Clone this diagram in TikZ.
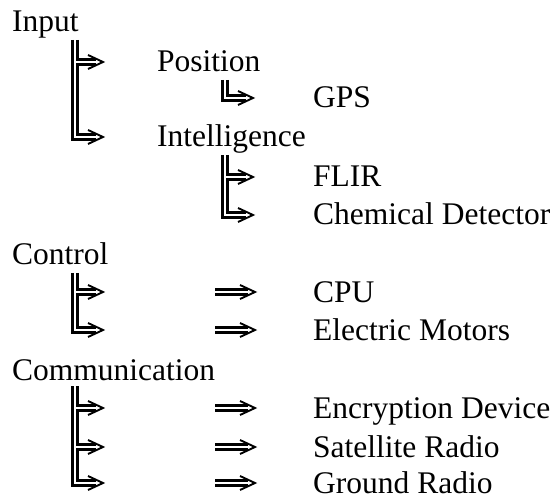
\documentclass[tikz,border=0pt]{standalone}
\usepackage{fontspec}
\setmainfont{Liberation Serif}
\begin{document}
\begin{tikzpicture}[x=1pt,y=-1pt,
  lbl/.style={anchor=base west, inner sep=0pt, font=\fontsize{31.5}{36}\selectfont},
  dl/.style={line width=2.3pt},
  chev/.style={line width=1.9pt, line join=miter}]
\useasboundingbox (0,0) rectangle (556,502);
\newcommand\chevat[2]{\draw[chev] (#1-15,#2-7) -- (#1,#2) -- (#1-15,#2+7);}
\newcommand\dblarrow[1]{\draw[dl] (215,#1-2.6) -- (248,#1-2.6) (215,#1+2.6) -- (248,#1+2.6); \chevat{255}{#1}}
% texts
\node[lbl] (input) at (12,32) {Input};
\node[lbl] (position) at (157,72) {Position};
\node[lbl] (gps) at (313,108) {GPS};
\node[lbl] (intel) at (157,147) {Intelligence};
\node[lbl] (flir) at (313,187) {FLIR};
\node[lbl] (chem) at (313,225) {Chemical Detector};
\node[lbl] (control) at (12,265) {Control};
\node[lbl] (cpu) at (313,302) {CPU};
\node[lbl] (motors) at (313,340) {Electric Motors};
\node[lbl] (comm) at (12,380) {Communication};
\node[lbl] (enc) at (313,418) {Encryption Device};
\node[lbl] (sat) at (313,457) {Satellite Radio};
\node[lbl] (ground) at (313,493) {Ground Radio};
% Input tree: rows 62, 137
\draw[dl] (72.4,40) |- (96,139.6);
\draw[dl] (77.6,40) |- (96,59.4) (96,64.6) -| (77.6,134.4) -- (96,134.4);
\chevat{103}{62}\chevat{103}{137}
% Position -> GPS: row 98
\draw[dl] (222.4,80) |- (246,100.6);
\draw[dl] (227.6,80) |- (246,95.4);
\chevat{253}{98}
% Intelligence tree: rows 177, 215
\draw[dl] (222.4,155) |- (246,217.6);
\draw[dl] (227.6,155) |- (246,174.4) (246,179.6) -| (227.6,212.4) -- (246,212.4);
\chevat{253}{177}\chevat{253}{215}
% Control tree: rows 292, 330
\draw[dl] (72.4,273) |- (96,332.6);
\draw[dl] (77.6,273) |- (96,289.4) (96,294.6) -| (77.6,327.4) -- (96,327.4);
\chevat{103}{292}\chevat{103}{330}
\dblarrow{292}\dblarrow{330}
% Communication tree: rows 408, 447, 483
\draw[dl] (72.4,386) |- (96,485.6);
\draw[dl] (77.6,386) |- (96,405.4) (96,410.6) -| (77.6,444.4) -- (96,444.4)
  (96,449.6) -| (77.6,480.4) -- (96,480.4);
\chevat{103}{408}\chevat{103}{447}\chevat{103}{483}
\dblarrow{408}\dblarrow{447}\dblarrow{483}
\end{tikzpicture}
\end{document}
